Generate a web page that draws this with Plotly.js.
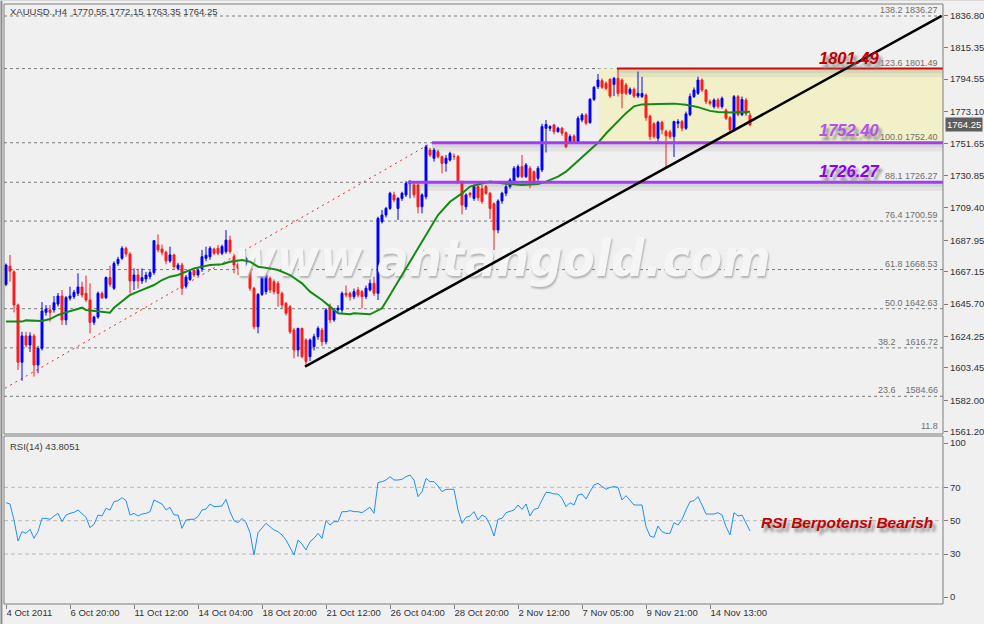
<!DOCTYPE html>
<html><head><meta charset="utf-8">
<script src="https://cdn.plot.ly/plotly-3.0.1.min.js"></script>
<style>html,body{margin:0;padding:0;background:#f0f0f0;}#chart{width:984px;height:624px;}</style>
</head><body><div id="chart"></div>
<script>
// ---------- DATA ----------
const openP = [1658.7,1670.7,1667.0,1645.1,1607.2,1624.6,1618.6,1624.6,1605.4,1616.4,
1640.2,1641.8,1641.8,1645.7,1651.0,1635.2,1649.5,1650.6,1652.8,1657.0,
1652.8,1648.4,1633.6,1637.1,1652.8,1649.9,1663.2,1656.1,1672.6,1676.0,
1682.6,1678.8,1661.0,1664.9,1661.0,1662.3,1663.8,1666.5,1684.8,1682.1,
1679.9,1674.2,1678.2,1669.3,1671.5,1657.5,1662.0,1668.0,1665.0,1669.0,
1676.0,1677.0,1682.1,1682.6,1679.3,1680.4,1688.0,1677.0,1672.0,1669.3,
1669.8,1669.3,1656.1,1630.7,1652.1,1653.9,1662.7,1660.5,1659.4,1652.8,
1646.2,1644.0,1628.5,1615.3,1629.6,1621.9,1610.9,1617.5,1624.1,1628.5,
1620.8,1644.0,1635.2,1641.8,1641.8,1652.8,1652.8,1650.6,1655.0,1653.9,
1650.6,1655.0,1659.4,1652.8,1700.2,1704.6,1709.0,1717.9,1709.0,1715.6,
1717.9,1725.6,1724.5,1724.5,1710.1,1716.7,1747.6,1742.1,1746.5,1743.2,
1738.8,1741.0,1743.5,1743.2,1726.7,1710.1,1719.0,1715.6,1723.4,1722.0,
1723.4,1719.0,1712.0,1694.7,1713.9,1719.0,1723.4,1726.7,1730.0,1736.6,
1730.0,1735.5,1733.3,1728.9,1734.4,1762.0,1762.0,1764.2,1759.8,1762.0,
1759.1,1753.1,1756.9,1753.1,1767.5,1770.8,1765.7,1781.1,1789.5,1793.5,
1791.7,1794.4,1791.0,1795.0,1793.9,1790.6,1785.1,1787.8,1783.3,1783.0,
1784.0,1770.0,1765.0,1755.4,1766.0,1760.0,1759.6,1756.5,1765.3,1766.4,
1762.0,1771.0,1783.0,1785.1,1793.9,1787.3,1779.6,1776.3,1780.7,1776.3,
1774.0,1769.0,1760.9,1782.9,1771.0,1780.7,1770.55];
const highP = [1672.5,1678.2,1668.0,1646.0,1627.4,1627.4,1627.0,1626.0,1618.0,1647.0,
1645.0,1645.1,1651.0,1653.0,1655.0,1651.0,1657.2,1655.0,1666.0,1660.5,
1664.5,1659.4,1638.0,1654.0,1654.0,1664.0,1671.1,1674.0,1677.0,1684.0,
1683.7,1680.0,1669.3,1669.0,1669.3,1667.0,1668.0,1688.0,1691.8,1685.0,
1681.0,1683.7,1679.0,1673.0,1673.0,1665.0,1668.0,1669.0,1670.0,1681.5,
1683.7,1684.0,1683.0,1684.8,1685.0,1694.7,1691.0,1679.0,1674.0,1676.0,
1677.0,1671.0,1657.0,1653.0,1667.0,1667.1,1664.0,1662.0,1661.0,1654.0,
1647.0,1645.0,1630.0,1630.0,1630.0,1623.0,1623.0,1626.0,1631.0,1630.0,
1643.0,1646.0,1643.0,1645.0,1654.0,1658.0,1654.0,1656.0,1657.0,1655.0,
1658.0,1662.0,1663.8,1703.5,1707.9,1710.0,1720.0,1720.0,1716.5,1720.0,
1727.0,1727.8,1726.0,1725.5,1719.0,1751.0,1749.0,1749.0,1748.0,1744.0,
1744.3,1746.5,1745.4,1744.3,1727.5,1719.0,1720.0,1725.0,1725.0,1724.5,
1724.5,1720.0,1713.0,1715.0,1720.0,1725.0,1729.0,1737.0,1738.0,1744.3,
1739.0,1737.0,1734.0,1737.0,1765.0,1767.5,1764.0,1765.0,1763.0,1763.0,
1760.0,1758.0,1758.0,1770.0,1772.0,1772.0,1782.0,1790.0,1797.9,1795.0,
1793.0,1795.0,1796.0,1801.5,1795.0,1792.0,1789.0,1789.0,1799.5,1796.0,
1785.0,1771.0,1766.0,1767.0,1767.0,1761.0,1761.0,1767.0,1768.0,1767.5,
1773.0,1785.0,1789.0,1796.1,1795.0,1788.0,1781.0,1781.8,1782.0,1783.0,
1775.0,1770.0,1784.0,1784.0,1783.0,1782.0,1772.15];
const lowP = [1657.5,1660.5,1640.2,1602.1,1595.0,1617.0,1614.0,1597.7,1599.9,1615.0,
1638.0,1634.1,1640.0,1644.0,1631.8,1631.8,1648.0,1649.0,1651.0,1650.0,
1647.0,1626.3,1631.8,1636.0,1649.0,1649.0,1657.0,1655.0,1671.0,1675.0,
1677.0,1652.8,1655.0,1656.0,1659.0,1660.0,1662.0,1665.0,1680.0,1678.0,
1672.0,1673.0,1669.0,1668.0,1651.7,1656.0,1661.0,1663.5,1664.0,1667.0,
1674.0,1675.0,1678.0,1678.0,1678.0,1679.0,1679.0,1666.0,1664.9,1668.0,
1668.0,1654.5,1629.0,1626.3,1651.0,1652.0,1653.0,1652.0,1644.0,1643.0,
1638.0,1626.0,1609.8,1610.9,1609.8,1604.3,1608.0,1615.0,1622.0,1618.0,
1619.0,1633.0,1634.0,1640.0,1640.0,1650.0,1648.0,1649.0,1650.0,1642.9,
1649.0,1654.0,1651.0,1648.4,1699.0,1703.0,1708.0,1713.0,1701.3,1714.0,
1716.5,1715.6,1716.0,1705.7,1705.7,1715.0,1743.0,1739.9,1742.0,1732.2,
1733.3,1740.0,1741.0,1725.5,1705.0,1708.0,1716.0,1714.0,1714.0,1712.0,
1718.0,1702.0,1681.5,1692.5,1712.0,1717.0,1722.0,1725.0,1729.0,1729.0,
1729.0,1722.3,1725.0,1727.0,1733.0,1746.0,1760.0,1758.0,1759.0,1757.0,
1748.7,1752.0,1752.0,1752.0,1766.0,1764.0,1765.0,1780.0,1788.0,1788.0,
1787.0,1782.0,1783.3,1783.0,1775.2,1784.0,1784.0,1782.0,1782.0,1782.0,
1767.0,1754.3,1755.0,1753.0,1758.0,1736.0,1755.0,1743.0,1762.0,1760.0,
1760.9,1770.0,1782.0,1784.0,1786.0,1778.0,1777.0,1775.0,1775.0,1775.0,
1767.5,1760.0,1760.0,1770.0,1770.0,1770.0,1763.35];
const closeP = [1671.5,1667.5,1645.1,1607.2,1624.6,1618.6,1624.6,1605.4,1616.4,1641.1,
1642.4,1640.2,1646.6,1651.0,1635.2,1649.9,1651.0,1653.5,1657.0,1651.7,
1648.4,1633.6,1637.1,1652.8,1649.9,1663.2,1658.7,1672.6,1675.3,1682.6,
1678.8,1661.0,1664.9,1661.0,1663.2,1664.9,1666.5,1687.6,1681.5,1679.9,
1674.2,1678.2,1670.4,1671.5,1656.1,1663.5,1667.0,1665.0,1668.0,1677.0,
1678.0,1682.6,1679.3,1679.3,1683.7,1688.0,1680.4,1671.5,1669.3,1674.8,
1676.0,1656.1,1630.7,1652.1,1663.8,1664.9,1655.0,1653.9,1652.8,1645.1,
1639.6,1627.4,1615.3,1629.6,1610.9,1607.6,1621.9,1624.1,1629.6,1620.8,
1641.8,1635.2,1641.8,1643.0,1652.8,1651.7,1650.6,1653.9,1651.7,1650.6,
1656.1,1659.4,1652.8,1702.4,1704.6,1709.0,1719.0,1714.5,1715.6,1719.0,
1725.6,1726.7,1717.9,1710.1,1717.9,1749.8,1744.3,1747.6,1743.2,1738.8,
1742.1,1745.4,1743.2,1726.7,1711.2,1717.9,1717.9,1723.4,1716.0,1713.5,
1719.0,1709.0,1694.7,1713.9,1719.0,1723.4,1727.8,1735.5,1736.6,1730.0,
1737.7,1726.7,1726.7,1735.5,1763.1,1764.5,1763.1,1759.7,1762.0,1758.7,
1749.8,1756.5,1753.1,1768.6,1770.8,1765.3,1781.1,1789.1,1793.9,1789.1,
1788.4,1783.3,1795.0,1785.1,1785.1,1785.1,1787.8,1783.3,1785.1,1785.0,
1769.0,1756.5,1756.5,1766.0,1761.0,1757.0,1756.5,1766.4,1766.4,1762.0,
1771.5,1783.0,1787.3,1793.9,1787.3,1779.6,1778.5,1780.7,1776.3,1781.8,
1768.6,1761.0,1782.9,1771.0,1781.0,1771.5,1764.25];
const rsiVals = [60.8,60.0,50.4,37.8,43.4,42.4,44.8,39.4,43.4,51.4,
51.4,50.8,52.8,54.4,49.4,53.4,54.4,55.0,56.4,54.4,
52.0,45.8,47.8,53.4,52.8,57.4,56.4,61.4,62.0,63.8,
62.0,53.4,54.4,52.8,54.0,54.4,55.4,62.4,61.4,60.0,
56.4,58.0,53.4,53.4,45.4,50.4,50.8,50.8,52.4,56.4,
57.0,60.0,58.4,58.4,58.8,62.8,55.4,50.0,48.8,51.4,
48.8,42.8,29.4,42.8,45.4,48.4,46.4,44.4,43.4,41.4,
38.4,33.4,29.4,38.4,36.0,32.4,37.4,39.4,42.4,39.4,
50.0,47.4,49.4,49.4,55.4,55.4,56.0,55.4,55.4,54.8,
56.4,58.0,54.4,72.8,73.4,74.4,76.4,74.4,74.4,74.8,
76.4,77.4,74.4,64.4,67.4,75.4,73.4,73.4,70.8,67.4,
68.8,68.8,68.8,56.4,48.4,52.0,52.8,55.4,50.4,53.4,
52.0,47.4,40.8,50.8,51.4,54.8,55.4,56.4,59.4,56.8,
60.0,52.8,56.8,57.4,62.4,67.0,66.8,66.0,66.0,63.4,
58.4,60.8,59.4,65.4,66.0,63.0,67.4,71.4,72.4,70.4,
68.8,70.0,70.4,70.0,62.4,65.0,62.4,59.4,59.4,59.4,
46.4,40.8,40.0,46.8,43.4,42.4,42.4,48.8,47.4,50.8,
56.4,61.4,62.0,64.4,59.4,54.0,54.0,54.0,54.8,53.4,
46.4,41.4,54.8,52.8,53.4,48.4,43.8];
const maBars = [0,4,5,6,7,9,11,13,15,18,19,20,23,26,27,29,31,33,35,37,39,41,43,45,47,51,54,56,59,61,
63,66,68,71,74,76,79,81,83,86,87,91,94,96,99,102,105,108,111,114,116,119,121,124,129,133,135,138,140,142,
145,148,150,153,155,157,159,163,167,170,173,176,178,181,184,186];
const maVals = [1634.1,1634.1,1634.9,1634.9,1634.5,1634.5,1635.8,1638.5,1640.2,1642.9,1643.3,1641.8,1640.7,1640.0,1643.3,1647.7,1651.7,1653.9,1656.1,1658.3,1661.6,1663.8,1664.9,1667.1,1669.3,1671.5,1672.0,1673.7,1674.8,1673.7,
1670.4,1669.3,1668.2,1664.9,1659.4,1653.9,1648.4,1644.0,1639.6,1638.9,1639.6,1638.9,1642.9,1651.7,1664.9,1678.2,1691.4,1704.6,1713.4,1718.9,1723.4,1725.6,1726.7,1725.6,1724.5,1725.1,1726.7,1730.0,1733.3,1738.0,
1745.0,1752.4,1758.5,1766.5,1772.0,1776.5,1777.8,1778.0,1778.3,1777.5,1776.0,1773.5,1772.8,1772.5,1772.6,1773.0];
const dateTickBars = [0,16,32,48,64,80,96,112,128,144,160,176];
const dateTickText = ['4 Oct 2011','6 Oct 20:00','11 Oct 12:00','14 Oct 04:00','18 Oct 20:00','21 Oct 12:00','26 Oct 04:00','28 Oct 20:00','2 Nov 12:00','7 Nov 05:00','9 Nov 21:00','14 Nov 13:00'];
const priceTicks = [1836.80,1815.35,1794.55,1773.10,1751.65,1730.85,1709.40,1687.95,1667.15,1645.70,1624.25,1603.45,1582.00,1561.20];
const rsiLevels = [30,50,70];
const fibPct = ['138.2','123.6','100.0','88.1','76.4','61.8','50.0','38.2','23.6','11.8'];
const fibLevels = [1836.27,1801.49,1752.40,1726.27,1700.59,1668.53,1642.63,1616.72,1584.66,1558.75];
const trendBars = [74.75, 233.9];
const trendPrices = [1604.3, 1836.3];
const fibDiagBars = [-0.25, 106.4];
const fibDiagPrices = [1590.0, 1752.4];
const zoneStartBar = 148.25;
const zoneTop = 1801.49, zoneBottom = 1752.40;
const keyLevels = [1801.49, 1752.40, 1726.27];
const keyLevelStartBars = [152.75, 106.5, 100.5];
const lastPrice = 1764.25;
const rsiLast = '43.8051';

// ---------- STYLE ----------
const X_RANGE = [-0.5, 234.25];
const Y_RANGE = [1559.72, 1844.21];
const RSI_RANGE = [0, 100.8];
const MAIN_DOM = [0.2833, 1];
const RSI_DOM = [0, 0.28];
const FONT = 'Liberation Sans, Arial, sans-serif';
const keyColors = ['#cc0a0a', '#a53cf2', '#a53cf2'];
const keyWidths = [2, 3, 3];
const keyTextColors = ['#c40000', '#b452e8', '#8e00f0'];
const keyYShift = [0, 2, 0];

const bars = openP.map((_, i) => i);
const fmt = v => v.toFixed(2);

const traces = [
  { type:'scatter', mode:'text', x:[124], y:[1673], text:['www.antangold.com'],
    textfont:{family:'Liberation Sans Narrow, DejaVu Sans Condensed, Liberation Sans', size:52, color:'#f5f5f5',
      weight:'bold', style:'italic', shadow:'1px 2px 2px #b4b4b4'},
    hoverinfo:'skip', showlegend:false, xaxis:'x', yaxis:'y', cliponaxis:false },
  { type:'candlestick', x:bars, open:openP, high:highP, low:lowP, close:closeP,
    increasing:{line:{color:'#0000ff', width:1}, fillcolor:'#0000ff'},
    decreasing:{line:{color:'#ff1a1a', width:1}, fillcolor:'#ff1a1a'},
    whiskerwidth:0, hoverinfo:'skip', showlegend:false, xaxis:'x', yaxis:'y' },
  { type:'scatter', mode:'lines', x:maBars, y:maVals, line:{color:'#138a13', width:2},
    hoverinfo:'skip', showlegend:false, xaxis:'x', yaxis:'y' },
  { type:'scatter', mode:'lines', x:bars, y:rsiVals, line:{color:'#1e8fff', width:1},
    hoverinfo:'skip', showlegend:false, xaxis:'x2', yaxis:'y2' }
];

const shapes = [];
shapes.push({type:'rect', xref:'x', yref:'y', x0:zoneStartBar, x1:X_RANGE[1], y0:zoneBottom, y1:zoneTop,
  fillcolor:'#f2f0c9', line:{width:0}, layer:'below'});
fibLevels.forEach(v => shapes.push({type:'line', xref:'paper', yref:'y', x0:0, x1:1, y0:v, y1:v,
  line:{color:'#7a7a7a', width:1, dash:'3px,3px'}, layer:'below'}));
shapes.push({type:'line', xref:'x', yref:'y', x0:fibDiagBars[0], x1:fibDiagBars[1], y0:fibDiagPrices[0], y1:fibDiagPrices[1],
  line:{color:'#ff2020', width:1, dash:'2px,4px'}, layer:'below'});
keyLevels.forEach((v, k) => {
  shapes.push({type:'line', xref:'x', yref:'y', x0:keyLevelStartBars[k], x1:X_RANGE[1], y0:v-2.8, y1:v-2.8,
    line:{color:'rgba(90,90,90,0.09)', width:9}, layer:'above'});
  shapes.push({type:'line', xref:'x', yref:'y', x0:keyLevelStartBars[k], x1:X_RANGE[1], y0:v-1.6, y1:v-1.6,
    line:{color:'rgba(90,90,90,0.10)', width:4}, layer:'above'});
  shapes.push({type:'line', xref:'x', yref:'y', x0:keyLevelStartBars[k], x1:X_RANGE[1], y0:v, y1:v,
    line:{color:keyColors[k], width:keyWidths[k]}, layer:'above'});
});
shapes.push({type:'line', xref:'x', yref:'y', x0:trendBars[0], x1:trendBars[1], y0:trendPrices[0], y1:trendPrices[1],
  line:{color:'#000000', width:2.5}, layer:'above'});
rsiLevels.forEach(v => shapes.push({type:'line', xref:'paper', yref:'y2', x0:0, x1:1, y0:v, y1:v,
  line:{color:'#b8b8b8', width:1, dash:'4px,3px'}, layer:'below'}));
shapes.push({type:'rect', xref:'paper', yref:'paper', x0:0, x1:1, y0:MAIN_DOM[0], y1:MAIN_DOM[1], line:{color:'#7c7c7c', width:1}});
shapes.push({type:'rect', xref:'paper', yref:'paper', x0:0, x1:1, y0:RSI_DOM[0], y1:RSI_DOM[1], line:{color:'#7c7c7c', width:1}});
shapes.push({type:'line', xref:'paper', yref:'paper', x0:-0.0027, x1:-0.0027, y0:-0.04, y1:1.01, line:{color:'#8c8c8c', width:2}});
shapes.push({type:'line', xref:'paper', yref:'paper', x0:-0.005, x1:1.05, y0:1.0058, y1:1.0058, line:{color:'#d8d8d8', width:1}});

const annotations = [];
annotations.push({xref:'paper', yref:'paper', x:0.0043, y:0.9868, xanchor:'left', yanchor:'middle', showarrow:false,
  text:'XAUUSD.,H4  1770.55 1772.15 1763.35 1764.25', font:{family:FONT, size:9.5, color:'#3c3c3c'}});
annotations.push({xref:'paper', yref:'paper', x:0.0043, y:0.2633, xanchor:'left', yanchor:'middle', showarrow:false,
  text:'RSI(14) ' + rsiLast, font:{family:FONT, size:9.5, color:'#3c3c3c'}});
fibLevels.forEach((v, k) => {
  const gap = (k >= 7 && k <= 8) ? '\u00a0\u00a0\u00a0\u00a0' : '\u00a0';
  const txt = k === 9 ? fibPct[k] : fibPct[k] + gap + fmt(v);
  if (k === 9) {
    annotations.push({xref:'paper', yref:'paper', x:1, y:0.2855, xanchor:'right', yanchor:'bottom', xshift:-3, showarrow:false,
      text:txt, font:{family:FONT, size:9, color:'#6e6e6e'}});
  } else {
    annotations.push({xref:'paper', yref:'y', x:1, y:v, xanchor:'right', yanchor:'bottom', xshift:-3, yshift:-1, showarrow:false,
      text:txt, font:{family:FONT, size:9, color:'#6e6e6e'}});
  }
});
keyLevels.forEach((v, k) => annotations.push({xref:'paper', yref:'y', x:0.934, y:v, xanchor:'right', yanchor:'bottom',
  yshift:keyYShift[k], showarrow:false, text:fmt(v),
  font:{family:FONT, size:16.5, color:keyTextColors[k], weight:'bold', style:'italic', shadow:'3px 4px 3px #8a8a8a'}}));
annotations.push({xref:'paper', yref:'y2', x:0.9915, y:49, xanchor:'right', yanchor:'middle', showarrow:false,
  text:'RSI Berpotensi Bearish',
  font:{family:FONT, size:15.5, color:'#c40000', weight:'bold', style:'italic', shadow:'3px 4px 3px #8a8a8a'}});
annotations.push({xref:'paper', yref:'y', x:1, y:lastPrice, xanchor:'left', yanchor:'middle', xshift:2, showarrow:false,
  text:fmt(lastPrice), bgcolor:'#5e5e5e', borderpad:1, font:{family:FONT, size:9.5, color:'#ffffff'}});

const layout = {
  width:984, height:624,
  margin:{l:4, r:41, t:4, b:20},
  paper_bgcolor:'#f0f0f0', plot_bgcolor:'#f0f0f0',
  showlegend:false, hovermode:false,
  xaxis:{domain:[0,1], range:X_RANGE, anchor:'y', showticklabels:false, showgrid:false, zeroline:false,
    showline:false, ticks:'', rangeslider:{visible:false}, fixedrange:true},
  xaxis2:{domain:[0,1], range:X_RANGE, anchor:'y2', matches:'x', showgrid:false, zeroline:false, showline:false,
    tickmode:'array', tickvals:dateTickBars, ticktext:dateTickText, ticks:'outside', ticklen:4, tickcolor:'#7c7c7c',
    ticklabelposition:'outside right', tickfont:{family:FONT, size:9.5, color:'#333333'}, rangeslider:{visible:false}},
  yaxis:{domain:MAIN_DOM, range:Y_RANGE, side:'right', anchor:'x', showgrid:false, zeroline:false, showline:false,
    tickmode:'array', tickvals:priceTicks, ticktext:priceTicks.map(fmt), ticks:'outside', ticklen:4, tickcolor:'#7c7c7c',
    tickfont:{family:FONT, size:9.5, color:'#333333'}},
  yaxis2:{domain:RSI_DOM, range:RSI_RANGE, side:'right', anchor:'x2', showgrid:false, zeroline:false, showline:false,
    tickmode:'array', tickvals:[4.2,30,50,70,96.5], ticktext:['0','30','50','70','100'], ticks:'outside', ticklen:4,
    tickcolor:'#7c7c7c', tickfont:{family:FONT, size:9.5, color:'#333333'}},
  shapes:shapes,
  annotations:annotations
};

Plotly.newPlot('chart', traces, layout, {staticPlot:true, displayModeBar:false});
</script>
</body></html>
